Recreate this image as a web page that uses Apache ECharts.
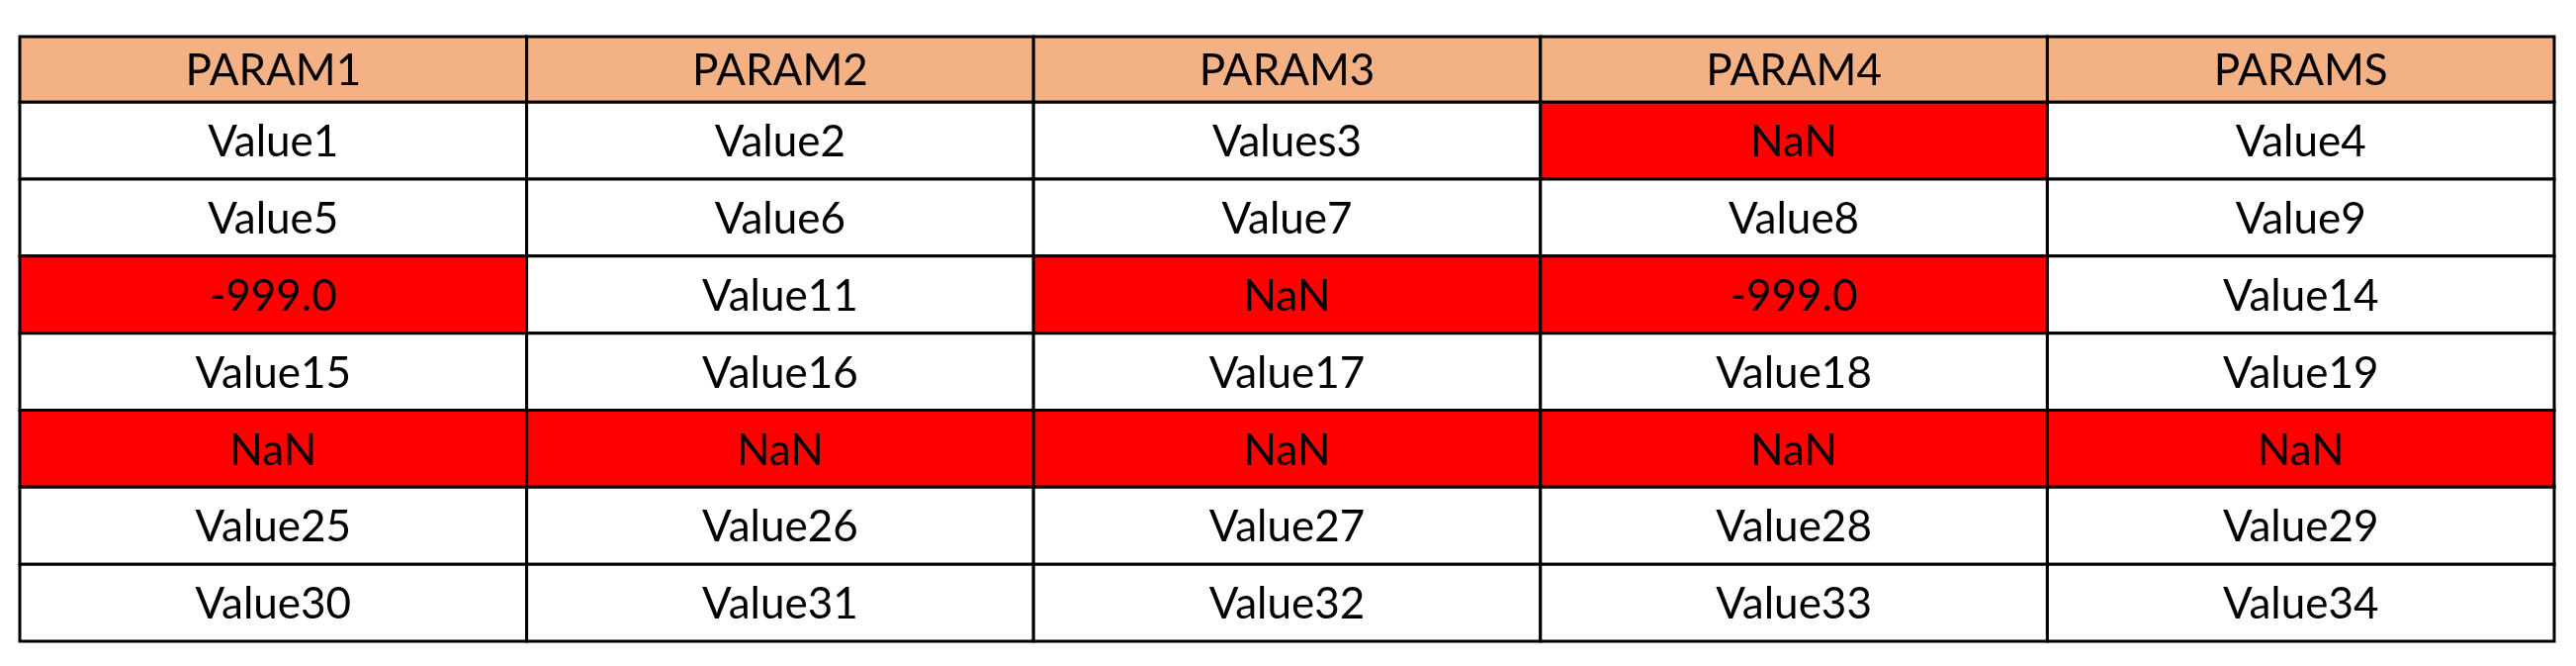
<!DOCTYPE html>
<html>
<head>
<meta charset="utf-8">
<script src="https://cdn.jsdelivr.net/npm/echarts@6/dist/echarts.min.js"></script>
<style>html,body{margin:0;padding:0;background:#fff;}#main{width:2605px;height:673px;}</style>
</head>
<body>
<div id="main"></div>
<script>
let columns = ['PARAM1', 'PARAM2', 'PARAM3', 'PARAM4', 'PARAMS'];
let rows = [
  ['Value1', 'Value2', 'Values3', 'NaN', 'Value4'],
  ['Value5', 'Value6', 'Value7', 'Value8', 'Value9'],
  ['-999.0', 'Value11', 'NaN', '-999.0', 'Value14'],
  ['Value15', 'Value16', 'Value17', 'Value18', 'Value19'],
  ['NaN', 'NaN', 'NaN', 'NaN', 'NaN'],
  ['Value25', 'Value26', 'Value27', 'Value28', 'Value29'],
  ['Value30', 'Value31', 'Value32', 'Value33', 'Value34']
];
let badValues = ['NaN', '-999.0'];
let headerSpan = 0.85; // header row is a bit shorter than body rows

// [col, rowTop, rowBottom, text, kind]
let cells = [];
for (let c = 0; c < columns.length; c++) {
  cells.push([c, 0, headerSpan, columns[c], 'head']);
}
for (let r = 0; r < rows.length; r++) {
  for (let c = 0; c < columns.length; c++) {
    let v = rows[r][c];
    cells.push([c, headerSpan + r, headerSpan + r + 1, v, badValues.indexOf(v) >= 0 ? 'bad' : 'ok']);
  }
}

let fills = { head: '#F4B183', bad: '#FF0000', ok: '#FFFFFF' };

let chart = echarts.init(document.getElementById('main'));
chart.setOption({
  backgroundColor: '#fff',
  animation: false,
  grid: { left: 20, right: 22, top: 37, bottom: 25 },
  xAxis: { type: 'value', min: 0, max: columns.length, show: false },
  yAxis: { type: 'value', min: 0, max: headerSpan + rows.length, inverse: true, show: false },
  series: [{
    type: 'custom',
    data: cells,
    encode: { x: 0, y: 1 },
    renderItem: function (params, api) {
      let cell = cells[params.dataIndex];
      let a = api.coord([cell[0], cell[1]]);
      let b = api.coord([cell[0] + 1, cell[2]]);
      return {
        type: 'group',
        children: [{
          type: 'rect',
          shape: { x: a[0], y: a[1], width: b[0] - a[0], height: b[1] - a[1] },
          style: { fill: fills[cell[4]], stroke: '#000', lineWidth: 3 }
        }, {
          type: 'text',
          style: {
            x: (a[0] + b[0]) / 2, y: (a[1] + b[1]) / 2 + 2,
            text: cell[3],
            align: 'center', verticalAlign: 'middle',
            fontFamily: 'Lato', fontSize: 44, fill: '#000'
          }
        }]
      };
    }
  }]
});
</script>
</body>
</html>
